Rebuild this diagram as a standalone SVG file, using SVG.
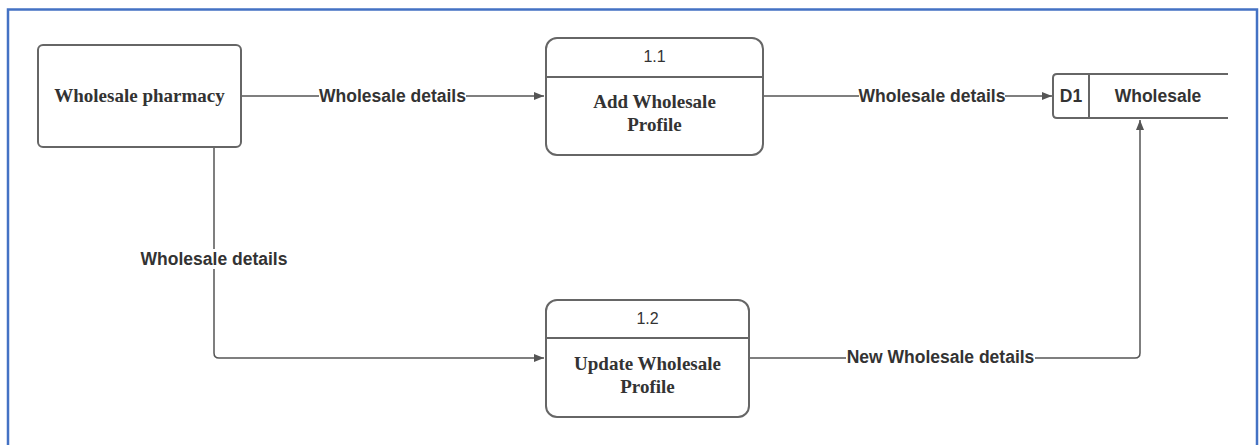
<svg xmlns="http://www.w3.org/2000/svg" width="1260" height="445" viewBox="0 0 1260 445">
  <defs>
    <marker id="arrow" viewBox="0 0 10 10" refX="10" refY="5" markerWidth="10" markerHeight="10" markerUnits="userSpaceOnUse" orient="auto">
      <path d="M0,1 L10,5 L0,9 Z" fill="#555"/>
    </marker>
  </defs>
  <style>
    .box { fill: #fff; stroke: #666; stroke-width: 2; }
    .line { fill: none; stroke: #555; stroke-width: 1.5; }
    .serif { font-family: "Liberation Serif", "Times New Roman", serif; font-weight: bold; font-size: 19px; fill: #333; text-anchor: middle; }
    .num { font-family: "Liberation Sans", Arial, sans-serif; font-size: 16px; fill: #333; text-anchor: middle; }
    .lbl { font-family: "Liberation Sans", Arial, sans-serif; font-weight: bold; font-size: 17.5px; fill: #333; text-anchor: middle; }
    .lblbg { fill: #fff; }
  </style>
  <rect x="0" y="0" width="1260" height="445" fill="#fff"/>
  <rect x="8" y="9.5" width="1249" height="460" fill="none" stroke="#4472C4" stroke-width="2.5"/>

  <g id="connectors">
    <path class="line" d="M241,96 H544" marker-end="url(#arrow)"/>
    <path class="line" d="M763,96 H1052" marker-end="url(#arrow)"/>
    <path class="line" d="M214,147 V353 Q214,358 219,358 H544" marker-end="url(#arrow)"/>
    <path class="line" d="M750,358 H1135 Q1140,358 1140,353 V120" marker-end="url(#arrow)"/>
    <rect class="lblbg" x="319" y="86" width="147" height="20"/>
    <text class="lbl" x="392.5" y="102">Wholesale details</text>
    <rect class="lblbg" x="859" y="86" width="146" height="20"/>
    <text class="lbl" x="932" y="102">Wholesale details</text>
    <rect class="lblbg" x="141" y="249" width="146" height="20"/>
    <text class="lbl" x="214" y="265">Wholesale details</text>
    <rect class="lblbg" x="846" y="348" width="189" height="20"/>
    <text class="lbl" x="940.5" y="363">New Wholesale details</text>
  </g>

  <g id="wholesale-pharmacy">
    <rect class="box" x="38" y="45" width="203" height="102" rx="5"/>
    <text class="serif" x="139.5" y="102">Wholesale pharmacy</text>
  </g>

  <g id="process-1-1">
    <rect class="box" x="546" y="38" width="217" height="117" rx="11"/>
    <line class="box" x1="546" y1="77" x2="763" y2="77"/>
    <text class="num" x="654.5" y="62">1.1</text>
    <text class="serif" x="654.5" y="108">Add Wholesale</text>
    <text class="serif" x="654.5" y="131">Profile</text>
  </g>

  <g id="process-1-2">
    <rect class="box" x="546" y="300" width="203" height="117" rx="11"/>
    <line class="box" x1="546" y1="338" x2="749" y2="338"/>
    <text class="num" x="647.5" y="324">1.2</text>
    <text class="serif" x="647.5" y="370">Update Wholesale</text>
    <text class="serif" x="647.5" y="393">Profile</text>
  </g>

  <g id="datastore-d1">
    <path class="box" d="M1228,74 H1057 Q1053,74 1053,78 V114 Q1053,118 1057,118 H1228"/>
    <line class="box" x1="1089" y1="74" x2="1089" y2="118"/>
    <text class="lbl" x="1071" y="102">D1</text>
    <text class="lbl" x="1158" y="102">Wholesale</text>
  </g>
</svg>
